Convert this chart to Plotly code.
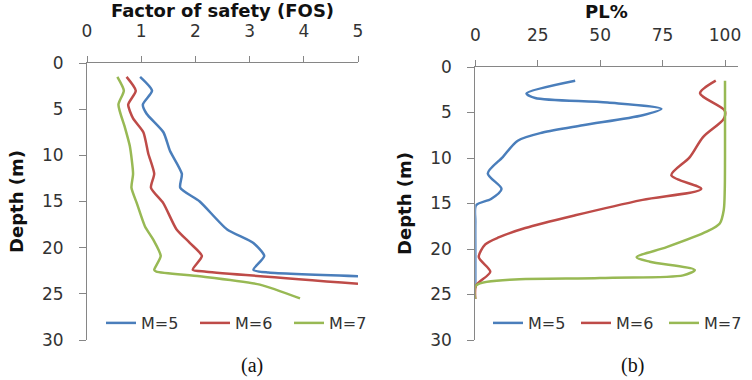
import plotly.graph_objects as go

# ---- Data: (a) Factor of safety vs depth ----
fos_depth_m5 = [1.5, 3.0, 4.5, 5.5, 7.5, 9.5, 12.0, 13.5, 15.0, 18.0, 19.5, 20.9, 22.4, 22.7, 23.1]
fos_m5 = [0.98, 1.20, 1.03, 1.10, 1.41, 1.53, 1.75, 1.72, 2.08, 2.58, 3.07, 3.27, 3.07, 3.35, 5.0]

fos_depth_m6 = [1.5, 3.0, 4.5, 6.0, 7.5, 9.8, 12.0, 13.5, 15.2, 18.0, 19.5, 20.9, 22.4, 22.6, 23.9]
fos_m6 = [0.73, 0.90, 0.76, 0.85, 1.04, 1.13, 1.24, 1.18, 1.41, 1.65, 1.90, 2.12, 1.95, 2.20, 5.0]

fos_depth_m7 = [1.5, 3.0, 4.5, 7.0, 9.0, 12.0, 13.5, 15.2, 17.7, 19.1, 20.9, 22.4, 22.6, 23.1, 24.0, 25.5]
fos_m7 = [0.56, 0.68, 0.58, 0.70, 0.79, 0.85, 0.82, 0.92, 1.07, 1.22, 1.36, 1.24, 1.28, 2.08, 3.19, 3.93]

# ---- Data: (b) PL% vs depth ----
pl_depth_m5 = [1.5, 2.9, 3.4, 3.9, 4.6, 5.3, 6.4, 7.2, 8.1, 9.9, 11.7, 13.4, 14.5, 15.2, 17.0, 20.0, 22.0, 24.0]
pl_m5 = [40, 20.5, 24, 53, 74.5, 67, 43, 27, 17, 11, 5, 10.5, 6.3, 0.3, 0, 0, 0, 0]

pl_depth_m6 = [1.5, 2.9, 4.8, 5.7, 7.7, 9.9, 11.9, 13.4, 14.6, 16.3, 17.7, 18.7, 19.5, 20.9, 22.5, 24.0, 25.5]
pl_m6 = [96.3, 90, 99.9, 99.5, 91.2, 85.9, 78.5, 90.5, 67, 40, 20, 9.6, 4, 1.4, 6.0, 0.3, 0]

pl_depth_m7 = [1.5, 5.0, 10.0, 13.5, 15.7, 17.2, 18.1, 19.8, 20.9, 21.4, 22.3, 22.9, 23.2, 24.0, 25.5]
pl_m7 = [100, 100, 100, 99.9, 99.5, 97.9, 92.6, 76.6, 64.6, 69.9, 87.9, 83.2, 49.9, 0.3, 0]

series_names = ["M=5", "M=6", "M=7"]
colors = ["#4A7EBB", "#BE4B48", "#98B954"]

W, H = 752, 380
FONT = "DejaVu Sans"
AXC = "#868686"
TXT = "#333333"

fig = go.Figure()

left = [(fos_m5, fos_depth_m5), (fos_m6, fos_depth_m6), (fos_m7, fos_depth_m7)]
right = [(pl_m5, pl_depth_m5), (pl_m6, pl_depth_m6), (pl_m7, pl_depth_m7)]

for i, (xv, yv) in enumerate(left):
    fig.add_trace(go.Scatter(x=xv, y=yv, mode="lines", name=series_names[i],
                             line=dict(color=colors[i], width=2.5, shape="spline", smoothing=0.6),
                             xaxis="x", yaxis="y", legend="legend"))
for i, (xv, yv) in enumerate(right):
    fig.add_trace(go.Scatter(x=xv, y=yv, mode="lines", name=series_names[i],
                             line=dict(color=colors[i], width=2.5, shape="spline", smoothing=0.8),
                             xaxis="x2", yaxis="y2", legend="legend2"))

tickfont = dict(family=FONT, size=17, color=TXT)
titlefont = dict(family=FONT, size=18, color="#111111", weight="bold")

common_x = dict(side="top", showline=True, linecolor=AXC, linewidth=1, ticks="outside",
                ticklen=6, tickcolor=AXC, showgrid=False, zeroline=False, tickfont=tickfont,
                ticklabelstandoff=12, automargin=False)
common_y = dict(showline=True, linecolor=AXC, linewidth=1, ticks="outside", ticklen=7,
                tickcolor=AXC, showgrid=False, zeroline=False, tickfont=tickfont,
                range=[30, 0], dtick=5, ticklabelstandoff=12, automargin=False)

fig.update_layout(
    width=W, height=H,
    margin=dict(l=0, r=0, t=0, b=0),
    paper_bgcolor="white", plot_bgcolor="white",
    xaxis=dict(domain=[87 / W, 358 / W], range=[0, 5], dtick=1, anchor="y",
               title=dict(text="Factor of safety (FOS)", font=titlefont, standoff=1), **common_x),
    yaxis=dict(domain=[1 - 340 / H, 1 - 63 / H], anchor="x",
               title=dict(text="Depth (m)", font=titlefont, standoff=13), **common_y),
    xaxis2=dict(domain=[475.3 / W, 737.5 / W], range=[0, 105], tickvals=[0, 25, 50, 75, 100], anchor="y2",
                title=dict(text="PL%", font=titlefont, standoff=1), **common_x),
    yaxis2=dict(domain=[1 - 340 / H, 1 - 67 / H], anchor="x2",
                title=dict(text="Depth (m)", font=titlefont, standoff=13), **common_y),
    legend=dict(orientation="h", x=101 / W, y=1 - 323 / H, xanchor="left", yanchor="middle",
                font=dict(family=FONT, size=16, color=TXT), bgcolor="rgba(0,0,0,0)",
                entrywidth=49, tracegroupgap=0),
    legend2=dict(orientation="h", x=1.0, y=1 - 323 / H, xanchor="right", yanchor="middle",
                 font=dict(family=FONT, size=16, color=TXT), bgcolor="rgba(0,0,0,0)",
                 entrywidth=43, tracegroupgap=0),
    annotations=[
        dict(text="(a)", x=252 / W, y=1 - 365 / H, xref="paper", yref="paper", showarrow=False,
             font=dict(family="Liberation Serif", size=20, color="#111111"), xanchor="center", yanchor="middle"),
        dict(text="(b)", x=632 / W, y=1 - 365 / H, xref="paper", yref="paper", showarrow=False,
             font=dict(family="Liberation Serif", size=20, color="#111111"), xanchor="center", yanchor="middle"),
    ],
)

fig.write_html("out.html")
